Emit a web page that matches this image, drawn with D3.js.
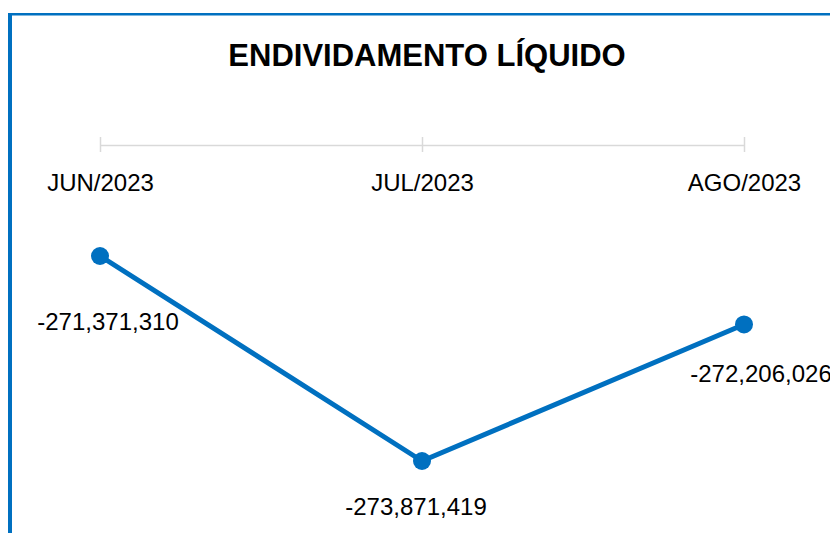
<!DOCTYPE html>
<html>
<head>
<meta charset="utf-8">
<script src="https://cdn.jsdelivr.net/npm/d3@7"></script>
<style>
  body { margin: 0; background: #fff; }
  svg { display: block; font-family: "Liberation Sans", Arial, sans-serif; }
</style>
</head>
<body>
<div id="chart"></div>
<script>
// Data
const months = ['JUN/2023', 'JUL/2023', 'AGO/2023']
const debt = [-271371310, -273871419, -272206026]

// label nudges (dx, dy from the point)
const labelNudge = [[8, 74], [-6, 54], [17, 58]]

const width = 830, height = 533
const blue = '#0070C0'

const svg = d3.select('#chart')
  .append('svg')
  .attr('width', width)
  .attr('height', height)

// frame (left + top)
svg.append('rect').attr('x', 8).attr('y', 13).attr('width', 4).attr('height', height - 13).attr('fill', blue)
svg.append('rect').attr('x', 8).attr('y', 13).attr('width', width - 8).attr('height', 2.5).attr('fill', blue)

// title
svg.append('text')
  .attr('x', 427)
  .attr('y', 66)
  .attr('text-anchor', 'middle')
  .attr('font-weight', 'bold')
  .attr('font-size', 31)
  .attr('fill', '#000')
  .text('ENDIVIDAMENTO LÍQUIDO')

// scales
const x = d3.scalePoint()
  .domain(months)
  .range([100, 744])

const y = d3.scaleLinear()
  .domain([d3.max(debt), d3.min(debt)])
  .range([256, 461])

// axis at top, ticks crossing the line, labels below
const axis = svg.append('g')
  .attr('transform', 'translate(0,145)')
  .call(d3.axisBottom(x).tickSize(7).tickSizeOuter(0).tickPadding(22))

axis.select('.domain').attr('stroke', '#d9d9d9').attr('stroke-width', 1.5)
axis.selectAll('.tick line').attr('stroke', '#d9d9d9').attr('stroke-width', 1.5).attr('y1', -8)
axis.selectAll('.tick text')
  .attr('font-size', 24)
  .attr('fill', '#000')
  .attr('font-family', '"Liberation Sans", Arial, sans-serif')

const pts = months.map((m, i) => ({ m, v: debt[i], i }))

// line
svg.append('path')
  .datum(pts)
  .attr('fill', 'none')
  .attr('stroke', blue)
  .attr('stroke-width', 5)
  .attr('stroke-linejoin', 'round')
  .attr('d', d3.line().x(d => x(d.m)).y(d => y(d.v)))

// markers
svg.selectAll('circle')
  .data(pts)
  .join('circle')
  .attr('cx', d => x(d.m))
  .attr('cy', d => y(d.v))
  .attr('r', 9)
  .attr('fill', blue)

// value labels
const fmt = d3.format(',')
svg.selectAll('text.val')
  .data(pts)
  .join('text')
  .classed('val', true)
  .attr('x', d => x(d.m) + labelNudge[d.i][0])
  .attr('y', d => y(d.v) + labelNudge[d.i][1])
  .attr('text-anchor', 'middle')
  .attr('font-size', 24)
  .attr('fill', '#000')
  .text(d => fmt(d.v).replace('−', '-'))
</script>
</body>
</html>
